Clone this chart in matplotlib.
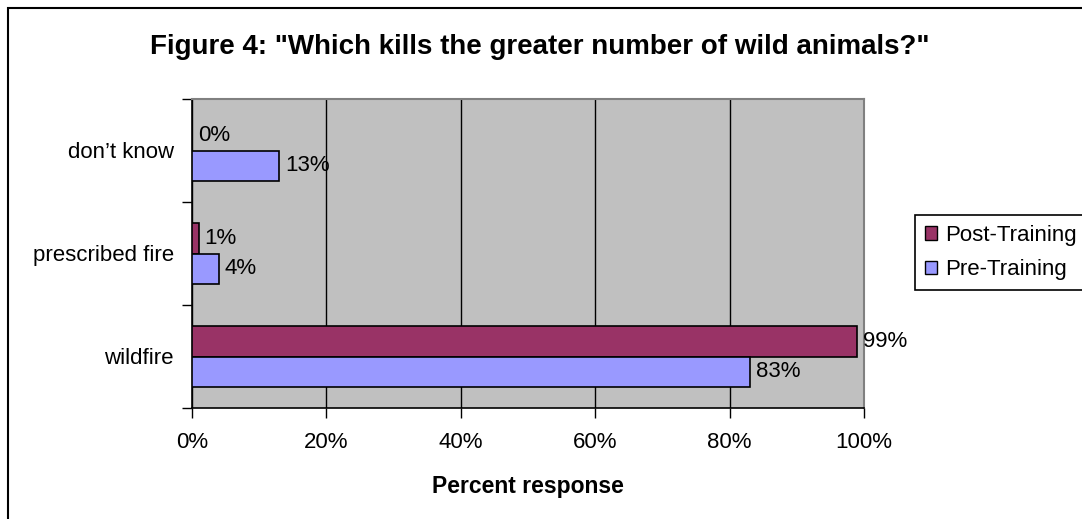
import matplotlib
matplotlib.use("Agg")
import matplotlib.pyplot as plt
from matplotlib.patches import Rectangle, Patch
from matplotlib.ticker import FixedLocator, PercentFormatter

plt.rcParams['font.family'] = ['Liberation Sans', 'DejaVu Sans']

categories = ["wildfire", "prescribed fire", "don\u2019t know"]
post_training = [99, 1, 0]
pre_training = [83, 4, 13]
series_names = ["Post-Training", "Pre-Training"]
x_ticks = [0, 20, 40, 60, 80, 100]

post_color = "#993366"
pre_color = "#9999FF"
plot_bg = "#C0C0C0"

W, H = 1082, 519
fig = plt.figure(figsize=(W / 100, H / 100), dpi=100)
ax = fig.add_axes([192 / W, 1 - 408 / H, 672 / W, 309 / H])
ax.set_facecolor(plot_bg)

pos = list(range(len(categories)))
bar_h = 0.3
post_bars = ax.barh([p + bar_h / 2 for p in pos], post_training, height=bar_h,
                    color=post_color, edgecolor="black", linewidth=1.2, zorder=3)
pre_bars = ax.barh([p - bar_h / 2 for p in pos], pre_training, height=bar_h,
                   color=pre_color, edgecolor="black", linewidth=1.2, zorder=3)

for bars, vals in ((post_bars, post_training), (pre_bars, pre_training)):
    for b, v in zip(bars, vals):
        ax.annotate(f"{v}%", (v, b.get_y() + b.get_height() / 2),
                    xytext=(6, 0), textcoords="offset pixels",
                    ha="left", va="center", fontsize=16, color="black",
                    annotation_clip=False, zorder=4)

ax.set_xlim(0, 100)
ax.set_ylim(-0.5, len(categories) - 0.5)
ax.xaxis.set_major_locator(FixedLocator(x_ticks))
ax.xaxis.set_major_formatter(PercentFormatter(decimals=0))
ax.set_yticks(pos)
ax.set_yticklabels(categories)
ax.yaxis.set_minor_locator(FixedLocator([p - 0.5 for p in range(len(categories) + 1)]))

ax.tick_params(axis="x", which="major", length=7, width=1, direction="out",
               labelsize=16, pad=10, color="black")
ax.tick_params(axis="y", which="major", length=0, labelsize=16, pad=13)
ax.tick_params(axis="y", which="minor", length=7, width=1, direction="out", color="black")

ax.grid(axis="x", color="black", linewidth=1, zorder=1)
ax.set_axisbelow(True)

for side in ("left", "bottom"):
    ax.spines[side].set_color("black")
    ax.spines[side].set_linewidth(1.2)
for side in ("top", "right"):
    ax.spines[side].set_color("#808080")
    ax.spines[side].set_linewidth(1.5)

ax.set_xlabel("Percent response", fontsize=16.5, fontweight="bold", labelpad=16)

fig.text(540 / W, 1 - 47 / H,
         "Figure 4: \"Which kills the greater number of wild animals?\"",
         ha="center", va="center", fontsize=20, fontweight="bold")

handles = [Patch(facecolor=post_color, edgecolor="black", linewidth=1),
           Patch(facecolor=pre_color, edgecolor="black", linewidth=1)]
leg = fig.legend(handles, series_names, loc="upper left",
                 bbox_to_anchor=(915 / W, 1 - 215 / H), fontsize=16,
                 frameon=True, fancybox=False, shadow=False, framealpha=1,
                 edgecolor="black", handlelength=0.55, handleheight=0.55,
                 handletextpad=0.35, borderpad=0.45, labelspacing=0.6,
                 borderaxespad=0)
leg.get_frame().set_linewidth(1.2)

# outer chart border (left and top edges visible)
fig.patches.append(Rectangle((7.5 / W, -0.2), 1.2, 1.2 - 7.5 / H,
                             transform=fig.transFigure, fill=False,
                             edgecolor="black", linewidth=1.5))

fig.savefig("out.png", dpi=100)
